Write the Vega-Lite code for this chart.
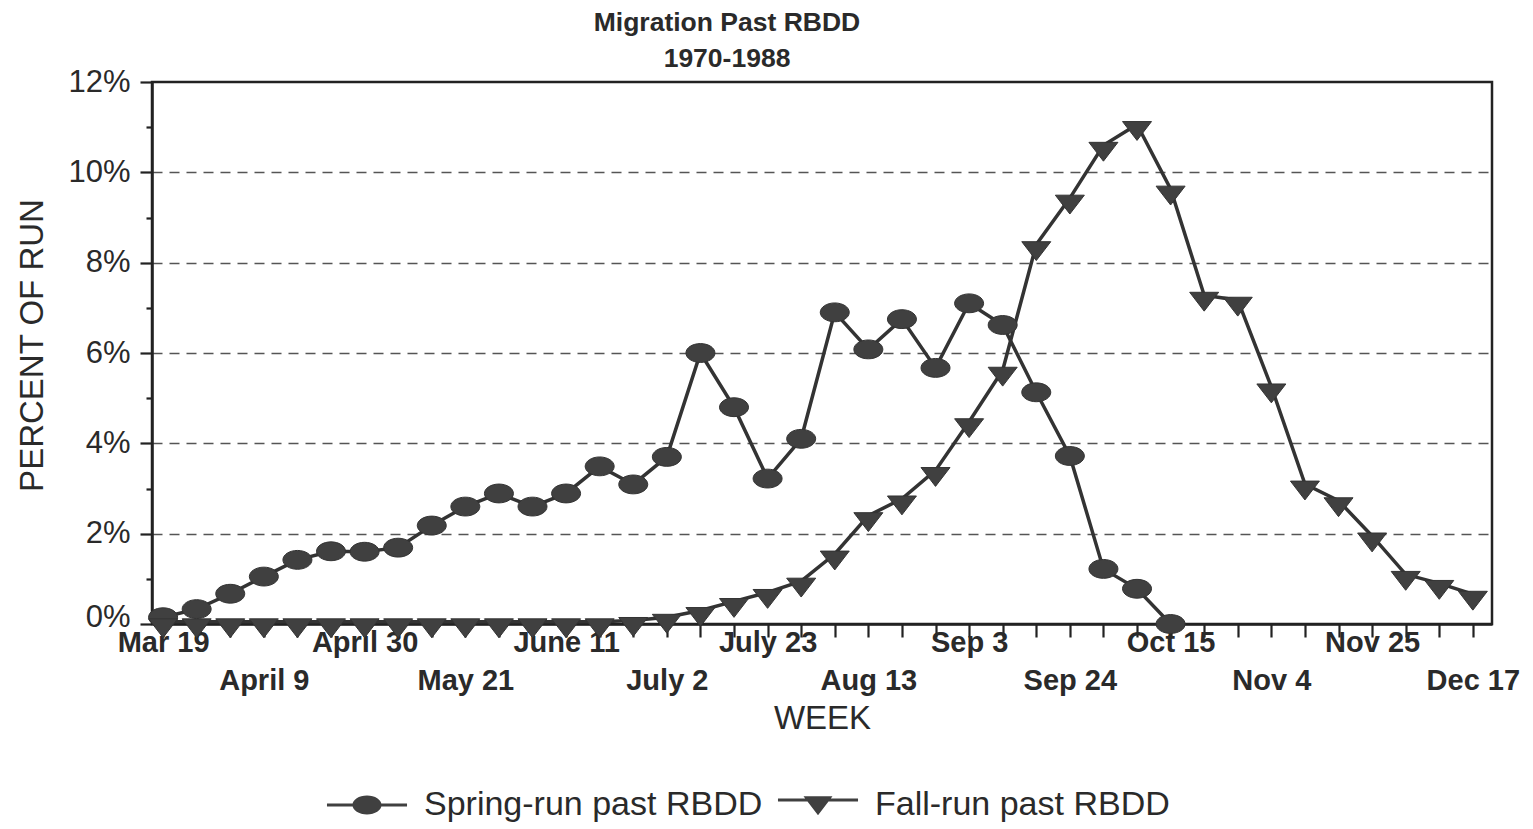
{
  "$schema": "https://vega.github.io/schema/vega-lite/v6.json",
  "autosize": "none",
  "width": 1340,
  "height": 542,
  "padding": {"left": 152, "top": 82, "right": 41, "bottom": 205},
  "background": "white",
  "config": {
    "font": "Liberation Sans",
    "view": {"stroke": "#222", "strokeWidth": 2.5},
    "axis": {"domainColor": "#222", "domainWidth": 2.5, "tickColor": "#222", "tickWidth": 2.2, "labelColor": "#2a2a2a", "titleColor": "#2a2a2a", "labelFont": "Liberation Sans", "titleFont": "Liberation Sans"}
  },
  "title": {
    "text": ["Migration Past RBDD", "1970-1988"],
    "fontSize": 26.5,
    "fontWeight": "bold",
    "color": "#2a2a2a",
    "lineHeight": 36,
    "anchor": "middle",
    "frame": "group",
    "dx": -95,
    "offset": -6
  },
  "data": {
    "values": [
      {"week": 0, "series": "Spring-run past RBDD", "pct": 0.15},
      {"week": 1, "series": "Spring-run past RBDD", "pct": 0.33},
      {"week": 2, "series": "Spring-run past RBDD", "pct": 0.67},
      {"week": 3, "series": "Spring-run past RBDD", "pct": 1.05},
      {"week": 4, "series": "Spring-run past RBDD", "pct": 1.42},
      {"week": 5, "series": "Spring-run past RBDD", "pct": 1.61},
      {"week": 6, "series": "Spring-run past RBDD", "pct": 1.6},
      {"week": 7, "series": "Spring-run past RBDD", "pct": 1.69},
      {"week": 8, "series": "Spring-run past RBDD", "pct": 2.18},
      {"week": 9, "series": "Spring-run past RBDD", "pct": 2.6},
      {"week": 10, "series": "Spring-run past RBDD", "pct": 2.89},
      {"week": 11, "series": "Spring-run past RBDD", "pct": 2.6},
      {"week": 12, "series": "Spring-run past RBDD", "pct": 2.89},
      {"week": 13, "series": "Spring-run past RBDD", "pct": 3.49},
      {"week": 14, "series": "Spring-run past RBDD", "pct": 3.09},
      {"week": 15, "series": "Spring-run past RBDD", "pct": 3.7},
      {"week": 16, "series": "Spring-run past RBDD", "pct": 6.0},
      {"week": 17, "series": "Spring-run past RBDD", "pct": 4.8},
      {"week": 18, "series": "Spring-run past RBDD", "pct": 3.22},
      {"week": 19, "series": "Spring-run past RBDD", "pct": 4.1},
      {"week": 20, "series": "Spring-run past RBDD", "pct": 6.9},
      {"week": 21, "series": "Spring-run past RBDD", "pct": 6.08},
      {"week": 22, "series": "Spring-run past RBDD", "pct": 6.75},
      {"week": 23, "series": "Spring-run past RBDD", "pct": 5.67},
      {"week": 24, "series": "Spring-run past RBDD", "pct": 7.1},
      {"week": 25, "series": "Spring-run past RBDD", "pct": 6.62},
      {"week": 26, "series": "Spring-run past RBDD", "pct": 5.13},
      {"week": 27, "series": "Spring-run past RBDD", "pct": 3.72},
      {"week": 28, "series": "Spring-run past RBDD", "pct": 1.22},
      {"week": 29, "series": "Spring-run past RBDD", "pct": 0.78},
      {"week": 30, "series": "Spring-run past RBDD", "pct": 0.0},
      {"week": 0, "series": "Fall-run past RBDD", "pct": 0.05},
      {"week": 1, "series": "Fall-run past RBDD", "pct": 0.05},
      {"week": 2, "series": "Fall-run past RBDD", "pct": 0.05},
      {"week": 3, "series": "Fall-run past RBDD", "pct": 0.05},
      {"week": 4, "series": "Fall-run past RBDD", "pct": 0.05},
      {"week": 5, "series": "Fall-run past RBDD", "pct": 0.05},
      {"week": 6, "series": "Fall-run past RBDD", "pct": 0.05},
      {"week": 7, "series": "Fall-run past RBDD", "pct": 0.05},
      {"week": 8, "series": "Fall-run past RBDD", "pct": 0.05},
      {"week": 9, "series": "Fall-run past RBDD", "pct": 0.05},
      {"week": 10, "series": "Fall-run past RBDD", "pct": 0.05},
      {"week": 11, "series": "Fall-run past RBDD", "pct": 0.05},
      {"week": 12, "series": "Fall-run past RBDD", "pct": 0.05},
      {"week": 13, "series": "Fall-run past RBDD", "pct": 0.05},
      {"week": 14, "series": "Fall-run past RBDD", "pct": 0.08},
      {"week": 15, "series": "Fall-run past RBDD", "pct": 0.15},
      {"week": 16, "series": "Fall-run past RBDD", "pct": 0.3},
      {"week": 17, "series": "Fall-run past RBDD", "pct": 0.5},
      {"week": 18, "series": "Fall-run past RBDD", "pct": 0.7},
      {"week": 19, "series": "Fall-run past RBDD", "pct": 0.95},
      {"week": 20, "series": "Fall-run past RBDD", "pct": 1.55},
      {"week": 21, "series": "Fall-run past RBDD", "pct": 2.4},
      {"week": 22, "series": "Fall-run past RBDD", "pct": 2.77},
      {"week": 23, "series": "Fall-run past RBDD", "pct": 3.4},
      {"week": 24, "series": "Fall-run past RBDD", "pct": 4.48},
      {"week": 25, "series": "Fall-run past RBDD", "pct": 5.62},
      {"week": 26, "series": "Fall-run past RBDD", "pct": 8.4},
      {"week": 27, "series": "Fall-run past RBDD", "pct": 9.43},
      {"week": 28, "series": "Fall-run past RBDD", "pct": 10.6},
      {"week": 29, "series": "Fall-run past RBDD", "pct": 11.06},
      {"week": 30, "series": "Fall-run past RBDD", "pct": 9.63},
      {"week": 31, "series": "Fall-run past RBDD", "pct": 7.28},
      {"week": 32, "series": "Fall-run past RBDD", "pct": 7.17},
      {"week": 33, "series": "Fall-run past RBDD", "pct": 5.25},
      {"week": 34, "series": "Fall-run past RBDD", "pct": 3.1},
      {"week": 35, "series": "Fall-run past RBDD", "pct": 2.73},
      {"week": 36, "series": "Fall-run past RBDD", "pct": 1.95},
      {"week": 37, "series": "Fall-run past RBDD", "pct": 1.1},
      {"week": 38, "series": "Fall-run past RBDD", "pct": 0.9},
      {"week": 39, "series": "Fall-run past RBDD", "pct": 0.66}
    ]
  },
  "encoding": {
    "x": {
      "field": "week",
      "type": "quantitative",
      "scale": {"domain": [-0.33, 39.57], "nice": false, "zero": false},
      "axis": {
        "title": "WEEK",
        "titleFontSize": 33,
        "titleFontWeight": "normal",
        "titleY": 94,
        "titleBaseline": "middle",
        "values": [0,1,2,3,4,5,6,7,8,9,10,11,12,13,14,15,16,17,18,19,20,21,22,23,24,25,26,27,28,29,30,31,32,33,34,35,36,37,38,39],
        "tickSize": 13,
        "labelPadding": -9,
        "labelFontSize": 29,
        "labelFontWeight": "bold",
        "labelLineHeight": 38,
        "labelBaseline": "top",
        "labelOverlap": false,
        "labelFlush": false,
        "labelExpr": "datum.value % 3 != 0 ? '' : (datum.value % 6 == 0 ? ['Mar 19','April 9','April 30','May 21','June 11','July 2','July 23','Aug 13','Sep 3','Sep 24','Oct 15','Nov 4','Nov 25','Dec 17'][datum.value / 3] : ['', ['Mar 19','April 9','April 30','May 21','June 11','July 2','July 23','Aug 13','Sep 3','Sep 24','Oct 15','Nov 4','Nov 25','Dec 17'][datum.value / 3]])",
        "grid": false
      }
    },
    "y": {
      "field": "pct",
      "type": "quantitative",
      "scale": {"domain": [0, 12], "nice": false},
      "axis": {
        "title": "PERCENT OF RUN",
        "titleFontSize": 33,
        "titleFontWeight": "normal",
        "titleX": -120,
        "titleY": 263,
        "titleAngle": -90,
        "titleAlign": "center",
        "titleBaseline": "middle",
        "values": [0,1,2,3,4,5,6,7,8,9,10,11,12],
        "labelExpr": "datum.value % 2 == 0 ? datum.value + '%' : ''",
        "labelFontSize": 31,
        "labelPadding": 10,
        "labelOffset": {"condition": {"test": "datum.value == 0", "value": -7}, "value": 0},
        "tickSize": {"condition": {"test": "datum.value % 2 == 1", "value": 6}, "value": 12},
        "grid": true,
        "gridDash": [10, 7],
        "gridColor": "#555",
        "gridWidth": 1.3,
        "gridOpacity": {"condition": {"test": "datum.value % 2 == 1 || datum.value == 0 || datum.value == 12", "value": 0}, "value": 1}
      }
    }
  },
  "layer": [
    {
      "mark": {"type": "line", "color": "#333", "strokeWidth": 3.5},
      "encoding": {"detail": {"field": "series"}}
    },
    {
      "mark": {"type": "point", "filled": true, "color": "#404040", "opacity": 1, "stroke": "#333", "strokeWidth": 1},
      "encoding": {
        "shape": {
          "field": "series",
          "scale": {"domain": ["Spring-run past RBDD", "Fall-run past RBDD"], "range": ["M-1,0A1,0.65,0,1,1,1,0A1,0.65,0,1,1,-1,0Z", "M-1,-0.2L1,-0.2L0,1.1Z"]},
          "legend": null
        },
        "size": {"value": 841}
      }
    },
    {
      "mark": {"type": "point", "filled": true, "color": "#404040", "opacity": 0},
      "encoding": {
        "shape": {
          "field": "series",
          "scale": {"domain": ["Spring-run past RBDD", "Fall-run past RBDD"], "range": ["M-2.76,-0.1L2.76,-0.1L2.76,0.1L-2.76,0.1ZM-1,0A1,0.65,0,1,1,1,0A1,0.65,0,1,1,-1,0Z", "M-2.76,-0.45L2.76,-0.45L2.76,-0.25L-2.76,-0.25ZM-1,-0.6L1,-0.6L0,0.7Z"]},
          "legend": {
            "title": null,
            "orient": "none",
            "direction": "horizontal",
            "legendX": 198,
            "legendY": 706,
            "padding": 0,
            "symbolSize": 841,
            "symbolOpacity": 1,
            "symbolFillColor": "#404040",
            "symbolStrokeColor": "#333",
            "symbolStrokeWidth": 0,
            "labelFontSize": 34,
            "labelColor": "#2a2a2a",
            "labelOffset": 40,
            "columnPadding": 14,
            "labelLimit": 0,
            "encode": {
              "symbols": {
                "update": {
                  "fill": {"value": "#3a3a3a"},
                  "opacity": {"value": 1},
                  "fillOpacity": {"value": 1}
                }
              }
            }
          }
        },
        "size": {"value": 841}
      }
    }
  ],
  "resolve": {"scale": {"shape": "independent"}}
}
